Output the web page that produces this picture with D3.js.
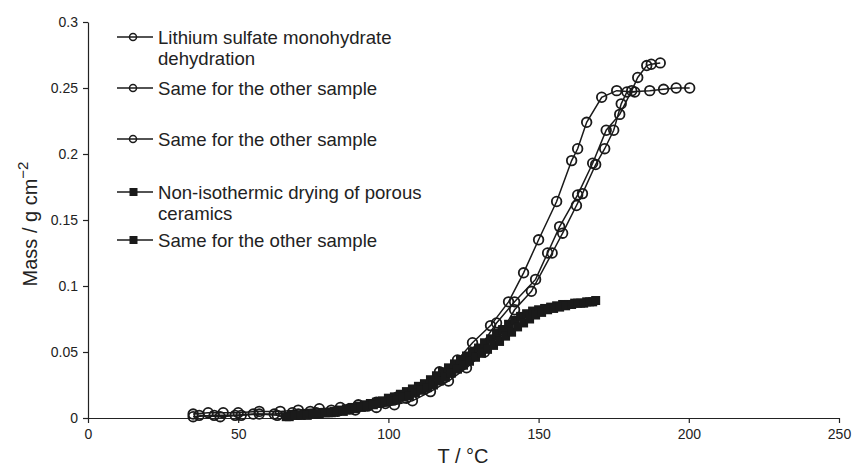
<!DOCTYPE html>
<html>
<head>
<meta charset="utf-8">
<script src="https://cdn.jsdelivr.net/npm/d3@7"></script>
<style>
  body { margin: 0; background: #fff; }
  text { font-family: "Liberation Sans", Arial, sans-serif; fill: #222; }
</style>
</head>
<body>
<script>
// lithium sulfate monohydrate dehydration (circles)
var tempA = [35,40,45,50,57,64,70,77,84,90,96,103,110,117,123,128,134,140,145,150,156,161,163,166,171,176,182];
var massA = [0.003,0.004,0.004,0.004,0.005,0.005,0.006,0.007,0.008,0.010,0.012,0.016,0.022,0.035,0.044,0.057,0.070,0.088,0.110,0.135,0.164,0.195,0.204,0.224,0.243,0.248,0.247];

var tempB = [35,42,49,55,62,68,74,81,87,93,99,106,112,118,124,130,136,142,149,153,157,163,168,172.5,177,181,183,186,187.5,190.5];
var massB = [0.001,0.002,0.002,0.003,0.003,0.004,0.005,0.006,0.007,0.009,0.011,0.015,0.022,0.030,0.040,0.052,0.072,0.088,0.105,0.125,0.145,0.169,0.193,0.218,0.230,0.248,0.258,0.267,0.268,0.269];

var tempC = [37,44,51,57,63,70,76,83,89,96,102,108,114,120,126,132,138,142,147.6,154.5,158,162.6,164.6,169,172,175,177.5,179.4,187,191.6,195.8,200.3];
var massC = [0.002,0.001,0.002,0.003,0.002,0.003,0.004,0.005,0.006,0.008,0.010,0.013,0.020,0.028,0.038,0.050,0.066,0.082,0.096,0.125,0.140,0.161,0.170,0.192,0.204,0.218,0.238,0.247,0.248,0.249,0.250,0.250];

// non-isothermic drying of porous ceramics (squares)
var tempD = [66,68,70,72,74,76,78,80,82,84,86,88,90,92,94,96,98,100,102,104,106,108,110,112,114,116,118,120,122,124,126,128,130,132,134,136,138,140,142,144,146,148,150,152,154,156,158,160,162,164,166,168];
var massD = [0.001,0.002,0.002,0.003,0.003,0.003,0.004,0.004,0.005,0.006,0.007,0.008,0.009,0.010,0.011,0.012,0.013,0.015,0.016,0.018,0.020,0.022,0.024,0.026,0.029,0.032,0.035,0.038,0.041,0.044,0.047,0.050,0.053,0.057,0.060,0.064,0.067,0.071,0.074,0.077,0.079,0.081,0.082,0.083,0.084,0.085,0.086,0.086,0.087,0.087,0.088,0.088];

var tempE = [67,69,71,73,75,77,79,81,83,85,87,89,91,93,95,97,99,101,103,105,107,109,111,113,115,117,119,121,123,125,127,129,131,133,135,137,139,141,143,145,147,149,151,153,155,157,159,161,163,165,167,169];
var massE = [0.001,0.002,0.002,0.002,0.003,0.003,0.004,0.004,0.005,0.005,0.006,0.007,0.008,0.009,0.010,0.011,0.012,0.013,0.014,0.016,0.017,0.019,0.021,0.023,0.025,0.028,0.031,0.034,0.037,0.040,0.043,0.046,0.049,0.052,0.055,0.058,0.062,0.065,0.069,0.072,0.075,0.078,0.080,0.082,0.083,0.084,0.085,0.086,0.087,0.087,0.088,0.089];

var xTicks = [0,50,100,150,200,250];
var yTicks = [0,0.05,0.1,0.15,0.2,0.25,0.3];

var legendNames = [["Lithium sulfate monohydrate","dehydration"],["Same for the other sample"],["Same for the other sample"],["Non-isothermic drying of porous","ceramics"],["Same for the other sample"]];
var legendMarks = ["circle","circle","circle","square","square"];

var series = [
  {t: tempA, m: massA, mark: "circle"},
  {t: tempB, m: massB, mark: "circle"},
  {t: tempC, m: massC, mark: "circle"},
  {t: tempD, m: massD, mark: "square"},
  {t: tempE, m: massE, mark: "square"}
];

var svg = d3.select("body").append("svg")
  .attr("width", 854)
  .attr("height", 468);

var x = d3.scaleLinear().domain([0,250]).range([88,839]);
var y = d3.scaleLinear().domain([0,0.3]).range([418,22]);

// axes
var xAxis = svg.append("g")
  .attr("transform", "translate(0,418)")
  .call(d3.axisBottom(x).tickValues(xTicks).tickSize(5).tickSizeOuter(0).tickFormat(d3.format("d")));
var yAxis = svg.append("g")
  .attr("transform", "translate(88,0)")
  .call(d3.axisLeft(y).tickValues(yTicks).tickSize(5).tickSizeOuter(0).tickFormat(function(d){ return String(+d.toFixed(2)); }));

[xAxis, yAxis].forEach(function(a){
  a.select(".domain").attr("stroke", "#222").attr("stroke-width", 1.2);
  a.selectAll(".tick line").attr("stroke", "#222").attr("stroke-width", 1.2);
  a.selectAll(".tick text").attr("font-size", 14).attr("font-family", "Liberation Sans, Arial, sans-serif").attr("fill", "#222");
});
xAxis.selectAll(".tick text").attr("dy", "0.95em");
yAxis.selectAll(".tick text").attr("x", -10);

// axis titles
svg.append("text")
  .attr("x", 463).attr("y", 463)
  .attr("text-anchor", "middle")
  .attr("font-size", 20)
  .text("T / °C");

var yt = svg.append("text")
  .attr("transform", "translate(37,224) rotate(-90)")
  .attr("text-anchor", "middle")
  .attr("font-size", 20);
yt.append("tspan").text("Mass / g cm");
yt.append("tspan").attr("dy", -9).attr("font-size", 15).text("−2");

// series
var line = d3.line()
  .x(function(d){ return x(d[0]); })
  .y(function(d){ return y(d[1]); });

series.forEach(function(s){
  var pts = s.t.map(function(t, i){ return [t, s.m[i]]; });
  svg.append("path")
    .datum(pts)
    .attr("fill", "none")
    .attr("stroke", "#1a1a1a")
    .attr("stroke-width", 1.5)
    .attr("d", line);
  if (s.mark === "circle") {
    svg.append("g").selectAll("circle")
      .data(pts).enter().append("circle")
      .attr("cx", function(d){ return x(d[0]); })
      .attr("cy", function(d){ return y(d[1]); })
      .attr("r", 4.8)
      .attr("fill", "none")
      .attr("stroke", "#1a1a1a")
      .attr("stroke-width", 1.8);
  } else {
    svg.append("g").selectAll("rect")
      .data(pts).enter().append("rect")
      .attr("x", function(d){ return x(d[0]) - 4.5; })
      .attr("y", function(d){ return y(d[1]) - 4.5; })
      .attr("width", 9)
      .attr("height", 9)
      .attr("fill", "#1a1a1a");
  }
});

// legend
var legendY = [37, 88, 139, 192, 240];
var leg = svg.append("g");
legendNames.forEach(function(names, i){
  var ly = legendY[i];
  leg.append("line")
    .attr("x1", 117).attr("x2", 153)
    .attr("y1", ly).attr("y2", ly)
    .attr("stroke", "#1a1a1a").attr("stroke-width", 1.5);
  if (legendMarks[i] === "circle") {
    leg.append("circle").attr("cx", 133).attr("cy", ly).attr("r", 3.5)
      .attr("fill", "none").attr("stroke", "#1a1a1a").attr("stroke-width", 1.5);
  } else {
    leg.append("rect").attr("x", 129.5).attr("y", ly - 4).attr("width", 8).attr("height", 8)
      .attr("fill", "#1a1a1a");
  }
  names.forEach(function(n, j){
    leg.append("text")
      .attr("x", 158).attr("y", ly + 6.8 + j * 21.5)
      .attr("font-size", 18.6)
      .text(n);
  });
});
</script>
</body>
</html>
